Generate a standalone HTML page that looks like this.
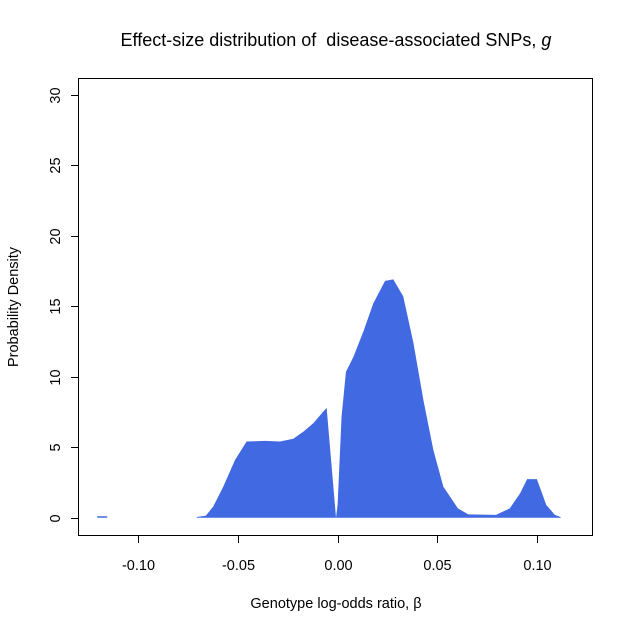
<!DOCTYPE html>
<html><head><meta charset="utf-8"><style>
body{margin:0;background:#fff;}
svg text{font-family:"Liberation Sans",Arial,sans-serif;fill:#000;}
</style></head><body>
<svg id="chart" width="634" height="633" viewBox="0 0 634 633">
<rect x="0" y="0" width="634" height="633" fill="#fff"/>
<text x="336" y="46" font-size="18" text-anchor="middle" style="white-space:pre">Effect-size distribution of  disease-associated SNPs, <tspan font-style="italic">g</tspan></text>
<g id="plot"></g>
<rect x="78.5" y="78.5" width="514" height="457" fill="none" stroke="#000" stroke-width="1"/>
<g id="xaxis"></g>
<g id="yaxis"></g>
<text x="336" y="608" font-size="14.5" text-anchor="middle">Genotype log-odds ratio, β</text>
<text transform="translate(18,307) rotate(-90)" font-size="14.5" text-anchor="middle">Probability Density</text>
</svg>
<script>
const xValues=[-0.0706,-0.066,-0.0623,-0.0573,-0.0514,-0.0456,-0.0364,-0.0289,-0.0222,-0.0172,-0.0122,-0.0055,-0.0008,0.0,0.002,0.0042,0.0079,0.0129,0.0179,0.0238,0.0279,0.0329,0.038,0.043,0.048,0.053,0.0603,0.0655,0.0794,0.0863,0.0915,0.095,0.0999,0.1046,0.1089,0.1118];
const densityValues=[0.05,0.15,0.8,2.2,4.1,5.4,5.45,5.4,5.6,6.1,6.7,7.8,0,0.9,7.2,10.35,11.4,13.2,15.2,16.8,16.9,15.7,12.4,8.35,4.8,2.2,0.66,0.24,0.2,0.66,1.73,2.74,2.74,0.9,0.2,0.05];
const stubX=[-0.1205,-0.1155];
const stubY=[0.05,0.05];
const xTicks=[-0.10,-0.05,0.00,0.05,0.10];
const xTickLabels=["-0.10","-0.05","0.00","0.05","0.10"];
const yTicks=[0,5,10,15,20,25,30];
const yTickLabels=["0","5","10","15","20","25","30"];

const NS="http://www.w3.org/2000/svg";
function sx(v){return 337.6+v*1995;}
function sy(v){return 517.7-v*14.1;}
const plot=document.getElementById('plot');
let pts=[[sx(xValues[0]),sy(0)]];
for(let i=0;i<xValues.length;i++)pts.push([sx(xValues[i]),sy(densityValues[i])]);
pts.push([sx(xValues[xValues.length-1]),sy(0)]);
const poly=document.createElementNS(NS,'polygon');
poly.setAttribute('points',pts.map(p=>p.join(',')).join(' '));
poly.setAttribute('fill','#4169e1');


plot.appendChild(poly);
const stub=document.createElementNS(NS,'line');
stub.setAttribute('x1',sx(stubX[0]));stub.setAttribute('x2',sx(stubX[1]));
stub.setAttribute('y1',sy(stubY[0]));stub.setAttribute('y2',sy(stubY[1]));
stub.setAttribute('stroke','#4169e1');stub.setAttribute('stroke-width','1.5');


plot.appendChild(stub);

const xa=document.getElementById('xaxis');
const xl=document.createElementNS(NS,'line');
xl.setAttribute('x1',sx(xTicks[0]));xl.setAttribute('x2',sx(xTicks[xTicks.length-1]));
xl.setAttribute('y1',535.5);xl.setAttribute('y2',535.5);xl.setAttribute('stroke','#000');


xa.appendChild(xl);
xTicks.forEach((t,i)=>{
  const x=Math.round(sx(t))+0.5;
  const l=document.createElementNS(NS,'line');
  l.setAttribute('x1',x);l.setAttribute('x2',x);l.setAttribute('y1',535.5);l.setAttribute('y2',543);l.setAttribute('stroke','#000');
  
  
  xa.appendChild(l);
  const tx=document.createElementNS(NS,'text');
  tx.setAttribute('x',x);tx.setAttribute('y',570);tx.setAttribute('font-size','14.5');tx.setAttribute('text-anchor','middle');
  tx.textContent=xTickLabels[i];
  
  
  xa.appendChild(tx);
});
const ya=document.getElementById('yaxis');
const yl=document.createElementNS(NS,'line');
yl.setAttribute('x1',78.5);yl.setAttribute('x2',78.5);
yl.setAttribute('y1',sy(yTicks[0]));yl.setAttribute('y2',sy(yTicks[yTicks.length-1]));yl.setAttribute('stroke','#000');


ya.appendChild(yl);
yTicks.forEach((t,i)=>{
  const y=Math.round(sy(t))+0.5;
  const l=document.createElementNS(NS,'line');
  l.setAttribute('x1',71);l.setAttribute('x2',78.5);l.setAttribute('y1',y);l.setAttribute('y2',y);l.setAttribute('stroke','#000');
  
  
  ya.appendChild(l);
  const tx=document.createElementNS(NS,'text');
  tx.setAttribute('transform','translate(60,'+y+') rotate(-90)');
  tx.setAttribute('font-size','14.5');tx.setAttribute('text-anchor','middle');
  tx.textContent=yTickLabels[i];
  
  
  ya.appendChild(tx);
});
</script>
</body></html>
